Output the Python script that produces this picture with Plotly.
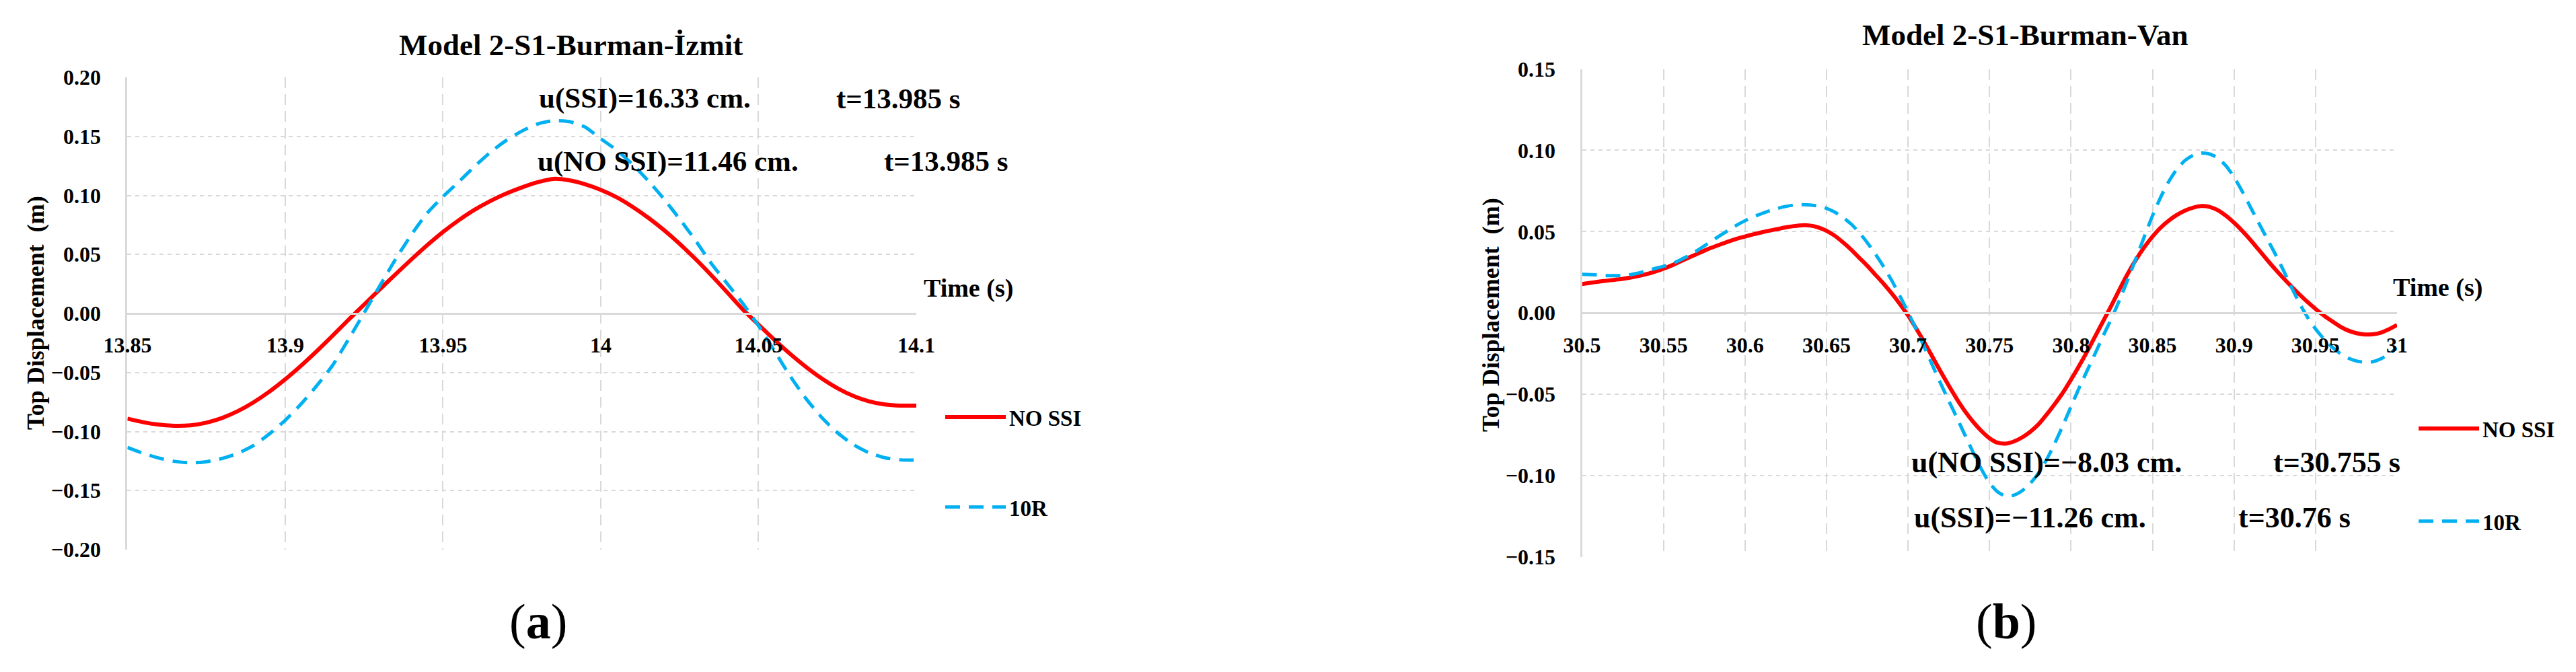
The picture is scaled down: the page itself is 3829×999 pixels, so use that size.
import plotly.graph_objects as go

W, H = 3829, 999

# ---------------- data: panel (a) Model 2-S1-Burman-İzmit ----------------
time_a = [13.85, 13.855, 13.86, 13.865, 13.87, 13.875, 13.88, 13.885, 13.89, 13.895,
          13.9, 13.905, 13.91, 13.915, 13.92, 13.925, 13.93, 13.935, 13.94, 13.945,
          13.95, 13.955, 13.96, 13.965, 13.97, 13.975, 13.98, 13.985, 13.99, 13.995,
          14.0, 14.005, 14.01, 14.015, 14.02, 14.025, 14.03, 14.035, 14.04, 14.045,
          14.05, 14.055, 14.06, 14.065, 14.07, 14.075, 14.08, 14.085, 14.09, 14.095, 14.1]
no_ssi_a = [-0.0891, -0.0921, -0.0942, -0.0951, -0.0947, -0.0925, -0.0885, -0.0827, -0.0752, -0.0662,
            -0.0558, -0.0443, -0.0319, -0.0189, -0.0055, 0.0075, 0.0205, 0.0333, 0.0458, 0.0578,
            0.0690, 0.0790, 0.0878, 0.0952, 0.1015, 0.1068, 0.1112, 0.1140, 0.1128, 0.1095,
            0.1047, 0.0985, 0.0905, 0.0812, 0.0707, 0.0590, 0.0462, 0.0325, 0.0181, 0.0035,
            -0.0095, -0.0222, -0.0342, -0.0452, -0.0550, -0.0633, -0.0698, -0.0744, -0.0771, -0.0781, -0.0780]
r10_a = [-0.1135, -0.1185, -0.1225, -0.1253, -0.1265, -0.1256, -0.1228, -0.1185, -0.1118, -0.1020,
         -0.0905, -0.0768, -0.0612, -0.0440, -0.0222, 0.0005, 0.0235, 0.0460, 0.0668, 0.0850,
         0.0990, 0.1115, 0.1245, 0.1365, 0.1465, 0.1545, 0.1605, 0.1633, 0.1625, 0.1580,
         0.1480, 0.1385, 0.1265, 0.1125, 0.0970, 0.0800, 0.0620, 0.0425, 0.0255, 0.0085,
         -0.0105, -0.0315, -0.0530, -0.0720, -0.0880, -0.1010, -0.1110, -0.1180, -0.1222, -0.1240, -0.1243]

xtick_a = [13.85, 13.9, 13.95, 14.0, 14.05, 14.1]
xtick_a_text = ["13.85", "13.9", "13.95", "14", "14.05", "14.1"]
ytick_a = [-0.2, -0.15, -0.1, -0.05, 0.0, 0.05, 0.1, 0.15, 0.2]
ytick_a_text = ["\u22120.20", "\u22120.15", "\u22120.10", "\u22120.05", "0.00", "0.05", "0.10", "0.15", "0.20"]

# ---------------- data: panel (b) Model 2-S1-Burman-Van ----------------
time_b = [30.5, 30.505, 30.51, 30.515, 30.52, 30.525, 30.53, 30.535, 30.54, 30.545,
          30.55, 30.555, 30.56, 30.565, 30.57, 30.575, 30.58, 30.585, 30.59, 30.595,
          30.6, 30.605, 30.61, 30.615, 30.62, 30.625, 30.63, 30.635, 30.64, 30.645,
          30.65, 30.655, 30.66, 30.665, 30.67, 30.675, 30.68, 30.685, 30.69, 30.695,
          30.7, 30.705, 30.71, 30.715, 30.72, 30.725, 30.73, 30.735, 30.74, 30.745,
          30.75, 30.755, 30.76, 30.765, 30.77, 30.775, 30.78, 30.785, 30.79, 30.795,
          30.8, 30.805, 30.81, 30.815, 30.82, 30.825, 30.83, 30.835, 30.84, 30.845,
          30.85, 30.855, 30.86, 30.865, 30.87, 30.875, 30.88, 30.885, 30.89, 30.895,
          30.9, 30.905, 30.91, 30.915, 30.92, 30.925, 30.93, 30.935, 30.94, 30.945,
          30.95, 30.955, 30.96, 30.965, 30.97, 30.975, 30.98, 30.985, 30.99, 30.995, 31.0]
no_ssi_b = [0.0178, 0.0185, 0.0192, 0.0198, 0.0204, 0.0210, 0.0218, 0.0228, 0.0240, 0.0255,
            0.0272, 0.0292, 0.0315, 0.0338, 0.0360, 0.0383, 0.0403, 0.0422, 0.0440, 0.0456,
            0.0470, 0.0483, 0.0495, 0.0506, 0.0516, 0.0526, 0.0534, 0.0539, 0.0537, 0.0526,
            0.0505, 0.0475, 0.0435, 0.0390, 0.0340, 0.0290, 0.0235, 0.0180, 0.0120, 0.0055,
            -0.0015, -0.0095, -0.0180, -0.0270, -0.0360, -0.0447, -0.0530, -0.0605, -0.0670, -0.0725,
            -0.0770, -0.0798, -0.0803, -0.0790, -0.0765, -0.0730, -0.0685, -0.0625, -0.0560, -0.0490,
            -0.0410, -0.0325, -0.0235, -0.0140, -0.0045, 0.0050, 0.0150, 0.0245, 0.0330, 0.0405,
            0.0470, 0.0525, 0.0568, 0.0603, 0.0630, 0.0648, 0.0657, 0.0652, 0.0632, 0.0598,
            0.0555, 0.0505, 0.0450, 0.0390, 0.0330, 0.0272, 0.0217, 0.0165, 0.0115, 0.0068,
            0.0025, -0.0015, -0.0050, -0.0083, -0.0108, -0.0124, -0.0132, -0.0131, -0.0121, -0.0100, -0.0074]
r10_b = [0.0238, 0.0236, 0.0233, 0.0230, 0.0229, 0.0230, 0.0236, 0.0246, 0.0260, 0.0274,
         0.0287, 0.0302, 0.0325, 0.0350, 0.0380, 0.0412, 0.0445, 0.0478, 0.0510, 0.0540,
         0.0567, 0.0590, 0.0610, 0.0628, 0.0643, 0.0655, 0.0663, 0.0666, 0.0664, 0.0657,
         0.0643, 0.0620, 0.0588, 0.0548, 0.0495, 0.0432, 0.0362, 0.0285, 0.0200, 0.0105,
         0.0005, -0.0100, -0.0210, -0.0322, -0.0433, -0.0540, -0.0645, -0.0752, -0.0858, -0.0960,
         -0.1045, -0.1100, -0.1126, -0.1120, -0.1093, -0.1048, -0.0985, -0.0902, -0.0802, -0.0692,
         -0.0575, -0.0460, -0.0352, -0.0245, -0.0135, -0.0030, 0.0085, 0.0210, 0.0340, 0.0470,
         0.0598, 0.0712, 0.0808, 0.0885, 0.0938, 0.0970, 0.0983, 0.0977, 0.0953, 0.0905,
         0.0835, 0.0748, 0.0652, 0.0556, 0.0462, 0.0368, 0.0268, 0.0163, 0.0062, -0.0025,
         -0.0098, -0.0158, -0.0208, -0.0248, -0.0277, -0.0295, -0.0303, -0.0300, -0.0282, -0.0252, -0.0215]

xtick_b = [30.5, 30.55, 30.6, 30.65, 30.7, 30.75, 30.8, 30.85, 30.9, 30.95, 31.0]
xtick_b_text = ["30.5", "30.55", "30.6", "30.65", "30.7", "30.75", "30.8", "30.85", "30.9", "30.95", "31"]
ytick_b = [-0.15, -0.1, -0.05, 0.0, 0.05, 0.1, 0.15]
ytick_b_text = ["\u22120.15", "\u22120.10", "\u22120.05", "0.00", "0.05", "0.10", "0.15"]

series_names = ["NO SSI", "10R"]
titles = ["Model 2-S1-Burman-\u0130zmit", "Model 2-S1-Burman-Van"]
x_title = "Time (s)"
y_title = "Top Displacement  (m)"
notes_a = [("u(SSI)=16.33 cm.", 13.980, 0.1823), ("t=13.985 s", 14.0743, 0.1823),
           ("u(NO SSI)=11.46 cm.", 13.9795, 0.1288), ("t=13.985 s", 14.0894, 0.1288)]
notes_b = [("u(NO SSI)=\u22128.03 cm.", 30.7012, -0.0920), ("t=30.755 s", 30.9232, -0.0920),
           ("u(SSI)=\u221211.26 cm.", 30.7028, -0.1257), ("t=30.76 s", 30.9018, -0.1257)]
panel_labels = ["a", "b"]

# ---------------- styling / layout ----------------
FONT = "Liberation Serif, Times New Roman, serif"
RED = "#FF0000"
BLUE = "#00B0F0"
GRID = "#d9d9d9"


def fx(px):
    return px / W


def fy(py):
    return 1 - py / H


# plot areas in pixels (left, right, top, bottom)
A = dict(l=189.4, r=1362.0, t=115.0, b=817.0)
B = dict(l=2351.5, r=3563.0, t=102.5, b=828.0)

tick_font = dict(family=FONT, size=32, color="black", weight="bold")
leg_font = dict(family=FONT, size=33, color="black", weight="bold")

fig = go.Figure()
fig.add_trace(go.Scatter(x=time_a, y=no_ssi_a, mode="lines", name=series_names[0],
                         line=dict(color=RED, width=6, shape="spline", smoothing=0.6),
                         xaxis="x", yaxis="y", legend="legend", legendgroup="a1"))
fig.add_trace(go.Scatter(x=time_a, y=r10_a, mode="lines", name=series_names[1],
                         line=dict(color=BLUE, width=5, dash="22px,13px", shape="spline", smoothing=0.6),
                         xaxis="x", yaxis="y", legend="legend", legendgroup="a2"))
fig.add_trace(go.Scatter(x=time_b, y=no_ssi_b, mode="lines", name=series_names[0],
                         line=dict(color=RED, width=6, shape="spline", smoothing=0.6),
                         xaxis="x2", yaxis="y2", legend="legend2", legendgroup="b1"))
fig.add_trace(go.Scatter(x=time_b, y=r10_b, mode="lines", name=series_names[1],
                         line=dict(color=BLUE, width=5, dash="22px,13px", shape="spline", smoothing=0.6),
                         xaxis="x2", yaxis="y2", legend="legend2", legendgroup="b2"))


def xaxis_cfg(P, rng, tv, tt):
    ydom = [fy(P["b"]), fy(P["t"])]
    return dict(domain=[fx(P["l"]), fx(P["r"])], anchor="free", position=(ydom[0] + ydom[1]) / 2,
                range=rng, tickvals=tv, ticktext=tt, showgrid=True, gridcolor=GRID, gridwidth=2,
                griddash="16px,9px", zeroline=False, showline=True, linecolor=GRID, linewidth=3,
                ticks="", tickfont=tick_font, ticklabelstandoff=18, fixedrange=True, automargin=False)


def yaxis_cfg(P, rng, tv, tt, anchor):
    return dict(domain=[fy(P["b"]), fy(P["t"])], anchor=anchor, range=rng, tickvals=tv, ticktext=tt,
                showgrid=True, gridcolor=GRID, gridwidth=2, griddash="6px,6px",
                zeroline=True, zerolinecolor=GRID, zerolinewidth=3,
                showline=True, linecolor=GRID, linewidth=3, ticks="", tickfont=tick_font,
                ticklabelstandoff=30, fixedrange=True, automargin=False)


ann = []
# chart titles
ann.append(dict(text=titles[0], x=fx(848), y=fy(67), xref="paper", yref="paper", showarrow=False,
                xanchor="center", yanchor="middle", font=dict(family=FONT, size=45, color="black", weight="bold")))
ann.append(dict(text=titles[1], x=fx(3010), y=fy(52), xref="paper", yref="paper", showarrow=False,
                xanchor="center", yanchor="middle", font=dict(family=FONT, size=45, color="black", weight="bold")))
# axis titles
for xl, yc in [(1371, 428), (3555, 427)]:
    ann.append(dict(text=x_title, x=fx(xl), y=fy(yc), xref="paper", yref="paper", showarrow=False,
                    xanchor="left", yanchor="middle", font=dict(family=FONT, size=38, color="black", weight="bold")))
for xc, yc in [(53, 465), (2216, 468)]:
    ann.append(dict(text=y_title, x=fx(xc), y=fy(yc), xref="paper", yref="paper", showarrow=False,
                    textangle=-90, xanchor="center", yanchor="middle",
                    font=dict(family=FONT, size=36, color="black", weight="bold")))
# value notes
for txt, xv, yv in notes_a:
    ann.append(dict(text=txt, x=xv, y=yv, xref="x", yref="y", showarrow=False, xanchor="left",
                    yanchor="middle", font=dict(family=FONT, size=43, color="black", weight="bold")))
for txt, xv, yv in notes_b:
    ann.append(dict(text=txt, x=xv, y=yv, xref="x2", yref="y2", showarrow=False, xanchor="left",
                    yanchor="middle", font=dict(family=FONT, size=44, color="black", weight="bold")))
# panel labels
for lab, xc in zip(panel_labels, [800, 2982]):
    ann.append(dict(text="(<b>%s</b>)" % lab, x=fx(xc), y=fy(924), xref="paper", yref="paper",
                    showarrow=False, xanchor="center", yanchor="middle",
                    font=dict(family=FONT, size=74, color="black")))

fig.update_layout(
    width=W, height=H, margin=dict(l=0, r=0, t=0, b=0, pad=0, autoexpand=False),
    paper_bgcolor="white", plot_bgcolor="white",
    xaxis=xaxis_cfg(A, [13.85, 14.1], xtick_a, xtick_a_text),
    yaxis=yaxis_cfg(A, [-0.2, 0.2], ytick_a, ytick_a_text, "x"),
    xaxis2=xaxis_cfg(B, [30.5, 31.0], xtick_b, xtick_b_text),
    yaxis2=yaxis_cfg(B, [-0.15, 0.15], ytick_b, ytick_b_text, "x2"),
    legend=dict(x=fx(1400), y=fy(592), xanchor="left", yanchor="top", font=leg_font,
                traceorder="grouped", tracegroupgap=88, itemwidth=90, bgcolor="rgba(0,0,0,0)"),
    legend2=dict(x=fx(3590), y=fy(609), xanchor="left", yanchor="top", font=leg_font,
                 traceorder="grouped", tracegroupgap=92, itemwidth=90, bgcolor="rgba(0,0,0,0)"),
    annotations=ann,
    showlegend=True,
)

fig.write_html("out.html", config={"displayModeBar": False},
               post_script="document.body.style.margin='0px';")
